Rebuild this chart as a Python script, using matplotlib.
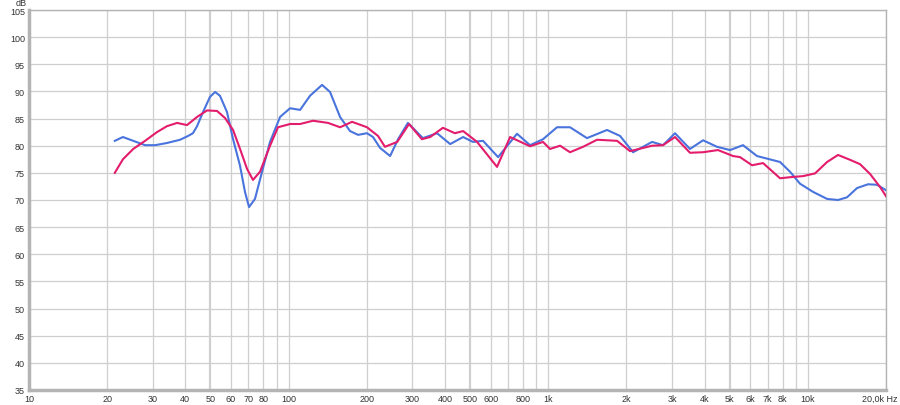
import numpy as np
import matplotlib
matplotlib.use('Agg')
from matplotlib import pyplot as plt

plt.rcParams['font.family'] = ['Liberation Sans', 'DejaVu Sans']

# blue measurement (Hz, dB)
blue_f = [21.4, 23.0, 25.2, 28.0, 30.6, 34.0, 38.2, 41.0, 42.8, 44.4, 46.8, 49.8,
          52.1, 54.4, 57.9, 61.1, 65.0, 67.9, 70.4, 74.2, 79.0, 84.8, 92.7, 101.3,
          110.7, 120.9, 134.5, 144.4, 157.8, 172.4, 185.1, 200.4, 211.4, 225,
          246, 264, 288, 329, 373, 419, 470, 513, 561, 641, 758, 851, 955, 1081,
          1213, 1410, 1685, 1891, 2122, 2512, 2768, 3078, 3516, 3948, 4467, 5015,
          5628, 6370, 7816, 8540, 9330, 10470, 11860, 13070, 14160, 15470, 17060,
          18480, 20000]
blue_db = [80.9, 81.6, 80.9, 80.1, 80.1, 80.5, 81.1, 81.8, 82.3, 83.6, 86.2, 89.0,
           89.9, 89.2, 86.2, 81.2, 76.3, 71.5, 68.7, 70.2, 75.2, 80.7, 85.3, 86.9,
           86.6, 89.2, 91.2, 89.9, 85.3, 82.7, 82.0, 82.3, 81.6, 79.6,
           78.1, 81.2, 84.2, 81.4, 82.3, 80.3, 81.6, 80.7, 80.9, 77.9, 82.2, 80.1,
           81.2, 83.4, 83.4, 81.4, 82.9, 81.8, 78.8, 80.7, 80.1, 82.3, 79.4, 81.0,
           79.8, 79.2, 80.1, 78.1, 77.0, 75.2, 73.0, 71.5, 70.2, 70.0, 70.5, 72.2,
           72.9, 72.8, 71.8]

# red measurement (Hz, dB)
red_f = [21.4, 23.0, 25.2, 28.0, 31.1, 34.0, 37.2, 40.6, 44.4, 48.5, 53.0, 56.9,
         61.1, 65.0, 69.2, 72.9, 77.6, 84.8, 91.0, 101.3, 110.7, 124.2, 141.9,
         157.8, 175.5, 200.4, 221, 235, 262, 291, 326, 351, 393, 437, 470, 532,
         635, 713, 851, 955, 1016, 1111, 1213, 1362, 1542, 1842, 2066, 2512, 2768,
         3078, 3516, 3948, 4508, 5150, 5480, 6095, 6722, 7816, 8540, 9583, 10660,
         11860, 13070, 14540, 15890, 17360, 18970, 20000]
red_db = [75.0, 77.5, 79.4, 80.9, 82.5, 83.6, 84.2, 83.8, 85.3, 86.5, 86.4, 85.1,
          82.9, 79.4, 75.7, 73.7, 75.2, 80.0, 83.4, 84.0, 84.0, 84.6, 84.2,
          83.4, 84.4, 83.4, 81.8, 79.8, 80.7, 84.0, 81.2, 81.6, 83.3, 82.3, 82.7,
          80.7, 76.1, 81.6, 79.9, 80.7, 79.4, 80.0, 78.8, 79.8, 81.1, 80.9, 79.0,
          80.0, 80.1, 81.6, 78.7, 78.8, 79.2, 78.1, 77.9, 76.4, 76.8, 74.0, 74.2,
          74.4, 74.9, 77.0, 78.3, 77.4, 76.6, 74.8, 72.4, 70.7]

grid_f = [10, 20, 30, 40, 50, 60, 70, 80, 90, 100, 200, 300, 400, 500, 600, 700,
          800, 900, 1000, 2000, 3000, 4000, 5000, 6000, 7000, 8000, 9000, 10000,
          20000]
grid_lbl = ['10', '20', '30', '40', '50', '60', '70', '80', '', '100', '200', '300',
            '400', '500', '600', '', '800', '', '1k', '2k', '3k', '4k', '5k', '6k',
            '7k', '8k', '', '10k', '']
y_ticks = list(range(35, 106, 5))

fig = plt.figure(figsize=(9, 4.06), dpi=100)
ax = fig.add_axes([29/900, 1 - 391/406, (886 - 29)/900, (391 - 11)/406])
ax.set_xscale('log')
ax.set_xlim(10, 20000)
ax.set_ylim(35, 105)

for f in grid_f:
    lw = 1.6 if f in (50, 500, 5000) else 0.9
    ax.axvline(f, color='#cfcfcf', lw=lw, zorder=0)
for y in y_ticks:
    ax.axhline(y, color='#cfcfcf', lw=0.9, zorder=0)

ax.plot(blue_f, blue_db, color='#4a74dd', lw=1.5, zorder=3, solid_joinstyle='round')
ax.plot(red_f, red_db, color='#e31c6c', lw=1.5, zorder=4, solid_joinstyle='round')

ax.set_xticks(grid_f)
ax.set_xticklabels(grid_lbl)
ax.xaxis.set_minor_locator(matplotlib.ticker.NullLocator())
ax.set_yticks(y_ticks)
ax.tick_params(length=0, labelsize=6.5, colors='#333333', pad=3)

for s in ['left', 'bottom']:
    ax.spines[s].set_linewidth(2.5)
    ax.spines[s].set_color('#b4b4b4')
for s in ['top', 'right']:
    ax.spines[s].set_linewidth(1.0)
    ax.spines[s].set_color('#b4b4b4')

fig.text(16/900, 1 - 3/406, 'dB', fontsize=6.5, color='#333333', va='center', ha='left')
fig.text(898/900, 1 - 399/406, '20,0k Hz', fontsize=6.5, color='#333333', va='center', ha='right')

plt.savefig('out.png', dpi=100)
plt.close()
